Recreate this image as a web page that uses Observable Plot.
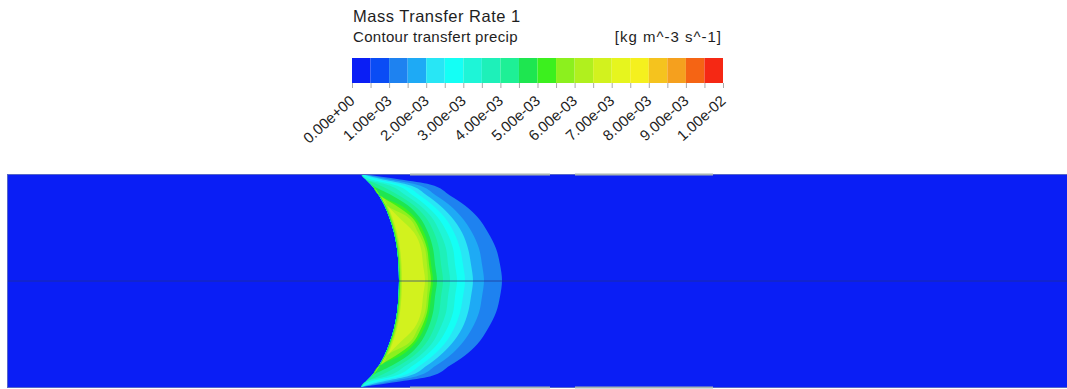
<!DOCTYPE html>
<html><head><meta charset="utf-8">
<script src="https://cdn.jsdelivr.net/npm/d3@7"></script>
<script src="https://cdn.jsdelivr.net/npm/@observablehq/plot@0.6"></script>
<style>
body{margin:0;background:#fff;font-family:"Liberation Sans",Arial,sans-serif;}
#wrap{position:relative;width:1067px;height:389px;overflow:hidden;background:#fff}
.t{position:absolute;color:#1e1e1e;white-space:nowrap;line-height:1}
#legend,#main{position:absolute;left:0}
#legend{top:0}
#main{top:170px}
</style></head><body>
<div id="wrap">
  <div id="legend"></div>
  <div id="main"></div>
  <div class="t" style="left:353px;top:8px;font-size:16.5px;letter-spacing:0.5px">Mass Transfer Rate 1</div>
  <div class="t" style="left:353px;top:29px;font-size:15px;letter-spacing:0.3px">Contour transfert precip</div>
  <div class="t" style="right:345px;top:29px;font-size:15px;letter-spacing:1px">[kg m^-3 s^-1]</div>
</div>
<script>
// ---- colour bar (20 bands, 0 .. 1e-2 kg m^-3 s^-1)
const bandEdges = [0, 0.0005, 0.001, 0.0015, 0.002, 0.0025, 0.003, 0.0035, 0.004, 0.0045, 0.005,
                   0.0055, 0.006, 0.0065, 0.007, 0.0075, 0.008, 0.0085, 0.009, 0.0095, 0.01];
const bandColors = ["#0a1ef5","#0a4cf5","#1e82f0","#1eaaf5","#28e6f5","#14fff5","#1ef5d7","#1ef0b9",
                    "#1ef096","#1ee650","#3cf01e","#8cf01e","#b0f01e","#d2f21e","#e6f51e","#f5f01e",
                    "#f5c31e","#f5a01e","#f56414","#f52814"];
const tickValues = [0, 0.001, 0.002, 0.003, 0.004, 0.005, 0.006, 0.007, 0.008, 0.009, 0.01];
const tickLabels = ["0.00e+00","1.00e-03","2.00e-03","3.00e-03","4.00e-03","5.00e-03",
                    "6.00e-03","7.00e-03","8.00e-03","9.00e-03","1.00e-02"];

// ---- pipe geometry (mm)
const pipeLength = 1060;
const pipeRadius = 106.5;
const wallStart = [403, 568];
const wallEnd = [543, 706];

// ---- contour bands (upper half; mirrored about the axis)
const rowY  = [106.5, 101, 96, 85, 75, 64, 48, 32, 16, 0];
const edgeX = [354, 359, 364, 372, 377.5, 382, 387, 390, 391.5, 392];
const levels = [0.001, 0.0015, 0.002, 0.0025, 0.003, 0.0035, 0.004, 0.0045, 0.005, 0.0055, 0.006, 0.0065];
const levelInset = [0, 0, 0, 0, 0, 0, 0, 0, 0.5, 1, 2, 3];
const levelRight = [
  [355, 393, 423, 443, 458, 470, 481, 489, 493, 495],
  [null, 383, 409, 429, 443, 454, 465, 472, 475, 477],
  [null, 376, 400, 420, 433, 444, 455, 461, 464, 466],
  [null, 370, 393, 413, 426, 437, 447, 453, 456, 458],
  [null, 364, 386, 406, 419, 430, 440, 446, 448, 450],
  [null, null, 379, 399, 413, 424, 433, 439, 441, 443],
  [null, null, 371, 392, 407, 418, 427, 432, 434, 436],
  [null, null, null, 385, 401, 412, 421, 426, 428, 430],
  [null, null, null, null, 394, 407, 417, 422, 424, 426],
  [null, null, null, null, 389, 404, 414, 420, 422, 424],
  [null, null, null, null, null, 400, 411, 418, 420, 421],
  [null, null, null, null, null, 391, 407, 414, 416, 418]
];

const colorOpts = {type: "threshold", domain: bandEdges.slice(1, -1), range: bandColors};

// build contour polygons
const contour = [];
levels.forEach((lv, k) => {
  const pts = rowY.map((y, i) => {
    const x1 = edgeX[i] + levelInset[k];
    const r = levelRight[k][i];
    return {level: lv, y, x1, x2: r == null ? x1 : Math.max(r, x1)};
  });
  const lower = pts.slice(0, -1).map(p => ({...p, y: -p.y}));
  const upper = pts.slice().reverse();
  contour.push(...lower, ...upper);
});

const bands = bandColors.map((c, i) => ({lo: bandEdges[i], hi: bandEdges[i + 1]}));
const walls = [];
wallStart.forEach((s, i) => {
  walls.push({x1: s, x2: wallEnd[i], y: pipeRadius});
  walls.push({x1: s, x2: wallEnd[i], y: -pipeRadius});
});

const legend = Plot.plot({
  width: 1067, height: 170,
  marginTop: 58, marginBottom: 87, marginLeft: 352, marginRight: 344,
  style: {fontFamily: "'Liberation Sans', Arial, sans-serif", fontSize: "15px", background: "transparent", overflow: "visible"},
  x: {domain: [0, 0.01]},
  y: {domain: [0, 1], axis: null},
  color: colorOpts,
  marks: [
    Plot.rect(bands, {x1: "lo", x2: "hi", y1: 0, y2: 1, fill: "lo"}),
    Plot.axisX({ticks: bandEdges, tickSize: 5, stroke: "#aaa", tickFormat: () => ""}),
    Plot.axisX({ticks: tickValues, tickSize: 0, tickPadding: 15, tickRotate: -42, fontSize: 15, fill: "#1e1e1e",
      tickFormat: d => tickLabels[tickValues.findIndex(v => Math.abs(v - d) < 1e-9)]})
  ]
});
document.getElementById("legend").appendChild(legend);

const main = Plot.plot({
  width: 1067, height: 219,
  marginTop: 4, marginBottom: 2, marginLeft: 7, marginRight: 0,
  style: {background: "transparent"},
  x: {domain: [0, pipeLength], axis: null},
  y: {domain: [-pipeRadius, pipeRadius], axis: null},
  color: colorOpts,
  marks: [
    Plot.rect([{v: 0}], {x1: () => 0, x2: () => pipeLength, y1: () => -pipeRadius, y2: () => pipeRadius, fill: "v"}),
    Plot.areaX(contour, {y: "y", x1: "x1", x2: "x2", z: "level", fill: "level", curve: "monotone-y"}),
    Plot.ruleY([0], {stroke: "#23308a", strokeOpacity: 0.7, strokeWidth: 1}),
    Plot.frame({stroke: "#5566c8", strokeWidth: 1}),
    Plot.ruleY(walls, {y: "y", x1: "x1", x2: "x2", stroke: "#a9b5b2", strokeWidth: 2})
  ]
});
document.getElementById("main").appendChild(main);
</script>
</body></html>
